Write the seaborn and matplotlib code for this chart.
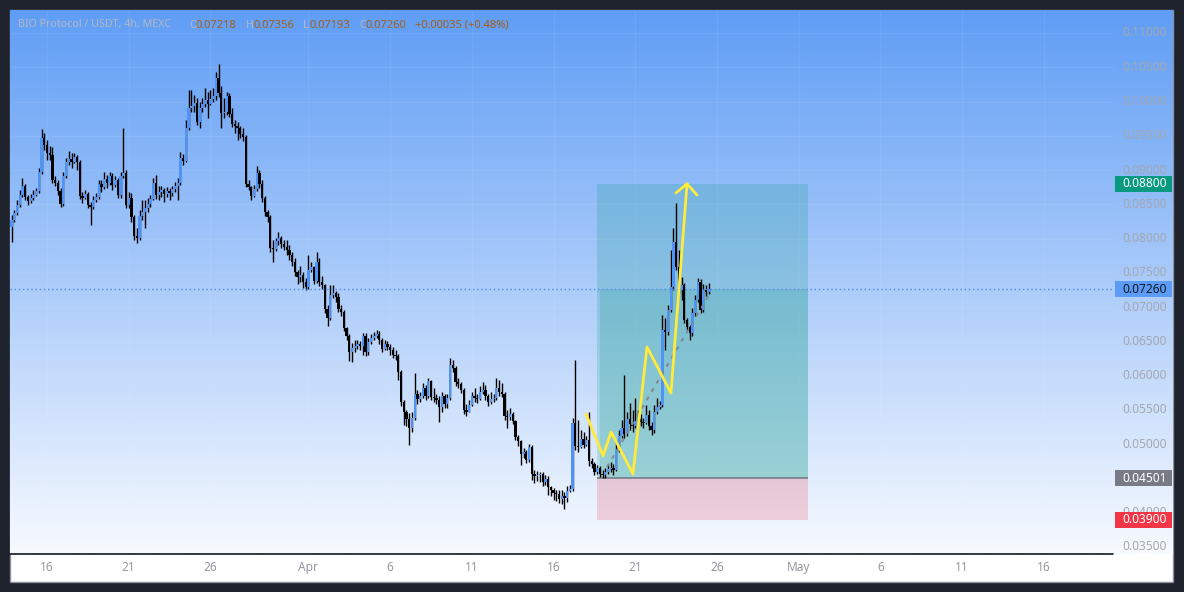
import numpy as np
import pandas as pd
import matplotlib
matplotlib.use("Agg")
import matplotlib.pyplot as plt
import matplotlib.dates as mdates
from matplotlib.patches import Rectangle
from matplotlib.transforms import blended_transform_factory
import seaborn as sns

# ---------------- data (prices in 1e-5 USDT) ----------------
first_open_e5 = 8169
close_e5 = [
    8271, 8373, 8490, 8636, 8767, 8607, 8548, 8592, 8636, 8694, 8972, 9468, 9366,
    9249, 9220, 8855, 8811, 8694, 8505, 8914, 9118, 9162, 9118,
    9191, 9118, 8621, 8592, 8651, 8490, 8461, 8563, 8607, 8797,
    8753, 8870, 8811, 8914, 8782, 8855, 8636, 8914, 8957, 8490,
    8592, 8315, 8038, 8009, 8330, 8388, 8446, 8505, 8578, 8811,
    8636, 8680, 8709, 8651, 8694, 8665, 8724, 8767, 8811, 9176,
    9132, 9614, 9906, 9935, 9979, 9701, 9906, 9964, 10022, 9964,
    10037, 10080, 10343, 10124, 9832, 9847, 10080, 9818, 9672, 9643,
    9614, 9526, 9483, 8797, 8753, 8621, 8724, 8957, 8797, 8592,
    8388, 8315, 7863, 7849, 7965, 8009, 7922, 7878, 7834, 7761,
    7659, 7513, 7440, 7469, 7367, 7294, 7542, 7586, 7381, 7659,
    7367, 7323, 6973, 6841, 7177, 7206, 7148, 6973, 6929, 6696,
    6579, 6346, 6404, 6433, 6462, 6433, 6579, 6346, 6492, 6550,
    6579, 6608, 6521, 6389, 6462, 6419, 6375, 6302, 6287, 6054,
    5616, 5470, 5368, 5236, 5382, 5733, 5660, 5704, 5820, 5704,
    5922, 5689, 5674, 5645, 5543, 5704, 5587, 5674, 6156, 6112,
    5908, 5878, 5791, 5499, 5470, 5572, 5704, 5674, 5660, 5762,
    5791, 5704, 5616, 5660, 5674, 5820, 5762, 5733, 5412, 5397,
    5441, 5339, 5105, 5047, 4857, 4887, 4770, 4960, 4566, 4537,
    4551, 4566, 4449, 4493, 4376, 4332, 4288, 4273, 4200, 4244,
    4215, 4317, 4346, 5310, 4974, 4960, 5076, 4989, 5062, 4755,
    4712, 4595, 4653, 4566, 4551, 4595, 4639, 4653, 4624, 4916,
    5120, 5236, 5149, 5368, 5295, 5266, 5339, 5368, 5324, 5310,
    5426, 5266, 5207, 5470, 5543, 5572, 6667, 6637, 6958, 7294,
    7951, 7586, 7250, 7323, 6812, 6710, 6623, 6914, 7104, 7367,
    6958, 7250, 7218, 7260,
]
high_e5 = [
    8344, 8417, 8563, 8709, 8884, 8797, 8636, 8651, 8709, 8738, 9030, 9600, 9541,
    9439, 9351, 9337, 8914, 8855, 8738, 8972, 9176, 9278, 9249,
    9249, 9220, 9147, 8680, 8709, 8680, 8534, 8621, 8665, 8855,
    8855, 8972, 8928, 8972, 8957, 8914, 8884, 8972, 9614, 9001,
    8680, 8665, 8344, 8154, 8417, 8563, 8563, 8592, 8636, 8884,
    8928, 8767, 8767, 8738, 8753, 8738, 8767, 8826, 8884, 9264,
    9234, 9730, 10168, 10168, 10095, 10051, 9993, 10051, 10197, 10139,
    10168, 10197, 10431, 10548, 10226, 10051, 10139, 10124, 9906, 9730,
    9701, 9643, 9614, 9512, 8855, 8767, 8782, 9060, 9001, 8855,
    8621, 8417, 8344, 7980, 8009, 8096, 8038, 7980, 7980, 7907,
    7805, 7717, 7542, 7600, 7513, 7425, 7761, 7659, 7600, 7805,
    7717, 7454, 7338, 7031, 7323, 7323, 7235, 7206, 7031, 6958,
    6710, 6608, 6477, 6521, 6521, 6506, 6623, 6623, 6550, 6608,
    6637, 6667, 6652, 6550, 6521, 6506, 6462, 6419, 6375, 6316,
    6083, 5645, 5499, 5455, 5470, 6039, 5791, 5762, 5893, 5864,
    5966, 5937, 5820, 5733, 5704, 5762, 5733, 5733, 6258, 6229,
    6141, 5966, 5908, 5820, 5587, 5645, 5762, 5820, 5733, 5849,
    5908, 5864, 5733, 5762, 5733, 5966, 5937, 5893, 5762, 5499,
    5528, 5470, 5353, 5134, 5062, 4945, 4916, 5003, 4989, 4624,
    4609, 4595, 4595, 4551, 4537, 4391, 4361, 4332, 4332, 4332,
    4303, 4391, 4405, 5382, 6229, 5353, 5207, 5178, 5120, 5470,
    4799, 4741, 4697, 4682, 4624, 4653, 4697, 4741, 4712, 5062,
    5207, 5353, 6010, 5470, 5601, 5499, 5674, 5499, 5441, 5382,
    5572, 5499, 5324, 5572, 5674, 5630, 6885, 6841, 7031, 7834,
    8154, 8519, 7834, 7440, 7352, 6841, 6739, 6987, 7177, 7425,
    7411, 7338, 7323, 7356,
]
low_e5 = [
    7951, 8242, 8344, 8461, 8607, 8563, 8490, 8519, 8563, 8621, 8665, 8943, 9293,
    9147, 9147, 8811, 8767, 8636, 8461, 8475, 8884, 9074, 9030,
    9103, 9001, 8578, 8519, 8578, 8446, 8198, 8432, 8534, 8578,
    8680, 8724, 8738, 8782, 8709, 8753, 8592, 8592, 8884, 8446,
    8446, 8242, 7980, 7936, 7980, 8271, 8154, 8388, 8461, 8563,
    8578, 8563, 8607, 8534, 8607, 8563, 8621, 8680, 8563, 8782,
    9074, 9118, 9585, 9847, 9847, 9657, 9614, 9847, 9920, 9760,
    9949, 9993, 10022, 10066, 9614, 9760, 9803, 9774, 9628, 9541,
    9439, 9468, 9424, 8753, 8709, 8563, 8607, 8694, 8738, 8534,
    8330, 8242, 7805, 7659, 7819, 7907, 7863, 7834, 7761, 7688,
    7600, 7454, 7338, 7367, 7279, 7250, 7265, 7513, 7338, 7352,
    7308, 7265, 6914, 6725, 6812, 7133, 7075, 6929, 6871, 6652,
    6521, 6214, 6200, 6346, 6389, 6375, 6302, 6287, 6302, 6462,
    6521, 6550, 6462, 6346, 6375, 6375, 6302, 6258, 6229, 5937,
    5557, 5280, 5266, 4989, 5178, 5353, 5587, 5616, 5674, 5645,
    5674, 5645, 5616, 5587, 5324, 5470, 5528, 5528, 5645, 6054,
    5849, 5820, 5747, 5441, 5412, 5470, 5557, 5616, 5601, 5645,
    5733, 5645, 5557, 5587, 5616, 5645, 5704, 5689, 5353, 5236,
    5353, 5295, 5062, 4974, 4697, 4799, 4726, 4741, 4478, 4434,
    4463, 4449, 4391, 4405, 4259, 4244, 4186, 4171, 4142, 4128,
    4054, 4157, 4303, 4317, 4916, 4887, 4945, 4945, 4974, 4682,
    4653, 4551, 4566, 4522, 4501, 4510, 4566, 4595, 4551, 4609,
    4887, 5091, 5091, 5120, 5207, 5178, 5236, 5295, 5266, 5236,
    5295, 5207, 5134, 5164, 5441, 5514, 5543, 6375, 6594, 6929,
    7250, 7542, 7206, 7104, 6768, 6667, 6521, 6579, 6871, 7075,
    6914, 6929, 7162, 7193,
]
first_candle = "2025-03-13 20:00"

date_ticks = ["2025-03-16", "2025-03-21", "2025-03-26", "2025-04-01", "2025-04-06",
              "2025-04-11", "2025-04-16", "2025-04-21", "2025-04-26", "2025-05-01",
              "2025-05-06", "2025-05-11", "2025-05-16"]
date_labels = ["16", "21", "26", "Apr", "6", "11", "16", "21", "26", "May", "6", "11", "16"]
price_ticks = [0.110, 0.105, 0.100, 0.095, 0.090, 0.085, 0.080, 0.075, 0.070,
               0.065, 0.060, 0.055, 0.050, 0.045, 0.040, 0.035]

last_price = 0.07260
target_price = 0.08800
entry_price = 0.04501
stop_price = 0.03900
box_start, box_end = "2025-04-18 16:00", "2025-05-01 13:40"

zig_times = ["2025-04-17 23:45", "2025-04-19 00:45", "2025-04-19 12:30", "2025-04-20 20:40",
             "2025-04-21 17:15", "2025-04-23 04:30", "2025-04-24 04:05"]
zig_prices = [0.05440, 0.04827, 0.05178, 0.04565, 0.06418, 0.05747, 0.08800]
arrow_times = ["2025-04-23 11:45", "2025-04-24 04:05", "2025-04-24 18:40"]
arrow_prices = [0.08665, 0.08800, 0.08636]
trend_times = ["2025-04-19 06:30", "2025-04-25 14:00"]
trend_prices = [0.04667, 0.07206]

header = [("BIO Protocol / USDT, 4h, MEXC", 18, "l"), ("O", 189, "l"), ("0.07218", 196, "v"),
          ("H", 246, "l"), ("0.07356", 253, "v"), ("L", 303, "l"), ("0.07193", 310, "v"),
          ("C", 359, "l"), ("0.07260", 366, "v"), ("+0.00035 (+0.48%)", 415, "v")]

# ---------------- derived series ----------------
close = np.array(close_e5) / 1e5
high = np.array(high_e5) / 1e5
low = np.array(low_e5) / 1e5
open_ = np.concatenate([[first_open_e5 / 1e5], close[:-1]])
times = pd.date_range(first_candle, periods=len(close), freq="4h")
xc = mdates.date2num(times.to_pydatetime())

def dn(s):
    return mdates.date2num(pd.Timestamp(s).to_pydatetime())

# ---------------- figure ----------------
sns.set_theme(style="white")
plt.rcParams["font.family"] = ["Noto Sans", "DejaVu Sans"]

W, H = 1184, 592
fig = plt.figure(figsize=(W / 100, H / 100), dpi=100, facecolor="#1e222d")
fig.patches.append(Rectangle((10 / W, 1 - 582 / H), 1163 / W, 572 / H, transform=fig.transFigure,
                             facecolor="white", edgecolor="#8d9099", lw=1, zorder=-10))
ax = fig.add_axes([10 / W, 1 - 554 / H, 1163 / W, 544 / H])
ax.set_zorder(5)
ax.set_facecolor("none")

x0, x1 = dn("2025-03-13 17:40"), dn("2025-05-23 21:50")
y0, y1 = 0.033975, 0.113356
xgrid_end = dn("2025-05-20 05:45")

# gradient background
g = np.linspace(0, 1, 300)[:, None, None]
top = np.array([95, 157, 245]) / 255
bot = np.array([247, 250, 255]) / 255
img = top + (bot - top) * g
ax.imshow(img, extent=[x0, x1, y0, y1], aspect="auto", origin="upper", zorder=0)

# grid
tick_x = [dn(d) for d in date_ticks]
ax.vlines(tick_x, y0, y1, color="white", alpha=0.07, lw=1, zorder=1)
ax.hlines(price_ticks, x0, xgrid_end, color="white", alpha=0.07, lw=1, zorder=1)

# position tool
bx0, bx1 = dn(box_start), dn(box_end)
ax.add_patch(Rectangle((bx0, entry_price), bx1 - bx0, target_price - entry_price,
                       facecolor=(8 / 255, 153 / 255, 129 / 255, 0.2), lw=0, zorder=2))
ax.add_patch(Rectangle((bx0 + 0.15, entry_price), bx1 - bx0 - 0.15, last_price - entry_price,
                       facecolor=(8 / 255, 153 / 255, 129 / 255, 0.16), lw=0, zorder=2))
ax.add_patch(Rectangle((bx0, stop_price), bx1 - bx0, entry_price - stop_price,
                       facecolor=(242 / 255, 54 / 255, 69 / 255, 0.2), lw=0, zorder=2))
ax.hlines([entry_price], bx0, bx1, color="#787b86", lw=1.2, zorder=2.5)

# candles
up = close >= open_
ax.vlines(xc, low, high, color="black", lw=1.0, zorder=3)
body_bottom = np.minimum(open_, close)
body_h = np.maximum(np.abs(close - open_), 0.00013)
ax.bar(xc, body_h, bottom=body_bottom, width=0.14,
       color=np.where(up, "#4f94f5", "#000000"), lw=0, zorder=4)

# last price dotted line
ax.hlines([last_price], x0, xgrid_end, color="#4a8cf0", lw=1, linestyles=(0, (1, 2)), zorder=5)

# drawings
sns.lineplot(x=[dn(t) for t in trend_times], y=trend_prices, ax=ax, color="#808592",
             lw=1.4, linestyle=(0, (2, 3)), sort=False, zorder=5)
sns.lineplot(x=[dn(t) for t in zig_times], y=zig_prices, ax=ax, color="#ffeb3b",
             lw=2, sort=False, zorder=6)
sns.lineplot(x=[dn(t) for t in arrow_times], y=arrow_prices, ax=ax, color="#ffeb3b",
             lw=2, sort=False, zorder=6)

ax.set_xlim(x0, x1)
ax.set_ylim(y0, y1)
for s in ax.spines.values():
    s.set_visible(False)
ax.set_yticks([])
ax.set_xticks(tick_x)
ax.set_xticklabels(date_labels)
ax.tick_params(axis="x", length=0, pad=5, labelsize=8.6, labelcolor="#9598a1")
ax.plot([x0, xgrid_end], [y0, y0], color="#131722", lw=1.2, clip_on=False, zorder=9)

# price scale
tr = blended_transform_factory(ax.transAxes, ax.transData)
lab_x = (1122 - 10) / 1163
for p in price_ticks:
    ax.text(lab_x, p, f"{p:.5f}", transform=tr, ha="left", va="center",
            fontsize=8.6, color="#a3a7b1", zorder=6)

badge_x = (1114.5 - 10) / 1163
badge_w = 57 / 1163
badge_h = 16 / 6853
for p, fc, tc in [(target_price, "#089981", "white"), (last_price, "#5b9cf6", "#131722"),
                  (entry_price, "#787b86", "white"), (stop_price, "#f23645", "white")]:
    ax.add_patch(Rectangle((badge_x, p - badge_h / 2), badge_w, badge_h, transform=tr,
                           facecolor=fc, lw=0, zorder=10, clip_on=False))
    ax.text(lab_x, p, f"{p:.5f}", transform=tr, ha="left", va="center",
            fontsize=8.6, color=tc, zorder=11, clip_on=False)

# header
for txt, px, kind in header:
    fig.text(px / W, 1 - 25 / H, txt, ha="left", va="center",
             fontsize=7.7 if kind == "l" else 8.0,
             color="#b4b8c2" if kind == "l" else "#a65f16", zorder=20)

fig.savefig("out.png", dpi=100, facecolor=fig.get_facecolor())
